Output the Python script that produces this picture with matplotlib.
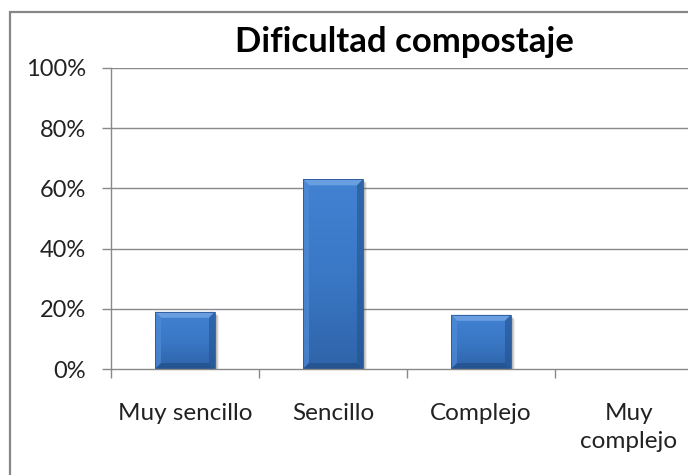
import numpy as np
import matplotlib
matplotlib.use("Agg")
import matplotlib.pyplot as plt
from matplotlib.patches import Rectangle, Polygon
from matplotlib.ticker import FuncFormatter, FixedLocator

# data
categories = ["Muy sencillo", "Sencillo", "Complejo", "Muy\ncomplejo"]
values = [0.19, 0.63, 0.18, 0.0]
y_ticks = [0.0, 0.2, 0.4, 0.6, 0.8, 1.0]
title = "Dificultad compostaje"

plt.rcParams['font.family'] = ['Lato', 'DejaVu Sans']

W, H = 688, 475
fig = plt.figure(figsize=(W / 100, H / 100), dpi=100)
fig.patch.set_facecolor('white')

# plot area (right edge runs off the picture, as in the reference)
x0, x1, y0, y1 = 111, 703, 369, 68
ax = fig.add_axes([x0 / W, (H - y0) / H, (x1 - x0) / W, (y0 - y1) / H])
ax.set_xlim(-0.5, 3.5)
ax.set_ylim(0, 1)

px = 4.0 / (x1 - x0)      # data units per pixel, x
py = 1.0 / (y0 - y1)      # data units per pixel, y

grid_col = '#898989'
for yv in y_ticks[1:]:
    ax.axhline(yv, color=grid_col, lw=1.0, zorder=1)

x = np.arange(len(categories))
bw = 0.405
vgrad = np.linspace(0, 1, 64)[:, None]
cmap = matplotlib.colors.LinearSegmentedColormap.from_list(
    'bar', ['#2f64a9', '#3a78c6', '#4282d2'])
bev = 6
for xi, v in zip(x, values):
    if v <= 0:
        continue
    l, r = xi - bw / 2, xi + bw / 2
    # soft shadow
    for k, a in [(4, 0.10), (3, 0.15), (2, 0.2)]:
        ax.add_patch(Rectangle((l + k * px, -k * py), bw, v,
                               facecolor='#505050', edgecolor='none',
                               alpha=a, zorder=2))
    bar = ax.bar(xi, v, width=bw, color='#3a78c6', edgecolor='none',
                 zorder=3)[0]
    im = ax.imshow(vgrad, cmap=cmap, aspect='auto', origin='lower',
                   extent=(l, r, 0, v), zorder=3)
    im.set_clip_path(bar)
    bx, by = bev * px, bev * py
    # bevel faces: top, left, right, bottom
    faces = [
        ([(l, v), (r, v), (r - bx, v - by), (l + bx, v - by)], '#6ea2e2', 0.9),
        ([(l, v), (l + bx, v - by), (l + bx, by), (l, 0)], '#4f8bd6', 0.7),
        ([(r, v), (r - bx, v - by), (r - bx, by), (r, 0)], '#24528f', 0.6),
        ([(l, 0), (l + bx, by), (r - bx, by), (r, 0)], '#1f4a82', 0.6),
    ]
    for pts, c, a in faces:
        ax.add_patch(Polygon(pts, closed=True, facecolor=c, edgecolor='none',
                             alpha=a, zorder=4))
    ax.add_patch(Rectangle((l, 0), bw, v, facecolor='none',
                           edgecolor='#2a5796', lw=0.6, zorder=5))
ax.set_xlim(-0.5, 3.5)
ax.set_ylim(0, 1)

for s in ['top', 'right']:
    ax.spines[s].set_visible(False)
for s in ['left', 'bottom']:
    ax.spines[s].set_color(grid_col)
    ax.spines[s].set_linewidth(1.0)
    ax.spines[s].set_zorder(6)

ax.yaxis.set_major_locator(FixedLocator(y_ticks))
ax.yaxis.set_major_formatter(FuncFormatter(lambda v, p: f"{v * 100:.0f}%"))
ax.set_xticks(np.arange(-0.5, 4.0, 1.0))
ax.set_xticklabels([])
ax.tick_params(axis='y', length=6.5, width=1, color=grid_col, pad=11.5,
               labelsize=17, labelcolor='#222222')
ax.tick_params(axis='x', length=6.5, width=1, color=grid_col)
for xi, lab in zip(x, categories):
    ax.text(xi, -0.114, lab, ha='center', va='top', fontsize=17.5,
            color='#222222', linespacing=1.4)

fig.text(404 / W, 1 - 52 / H, title, ha='center', va='baseline',
         fontsize=25, fontweight='bold', color='black')

# outer chart border
fig.add_artist(Rectangle((10 / W, -0.1), 2.0, 1 - 12 / H + 0.1,
                         transform=fig.transFigure, facecolor='none',
                         edgecolor='#868686', lw=1.6, clip_on=False))

fig.savefig('out.png', dpi=100)
